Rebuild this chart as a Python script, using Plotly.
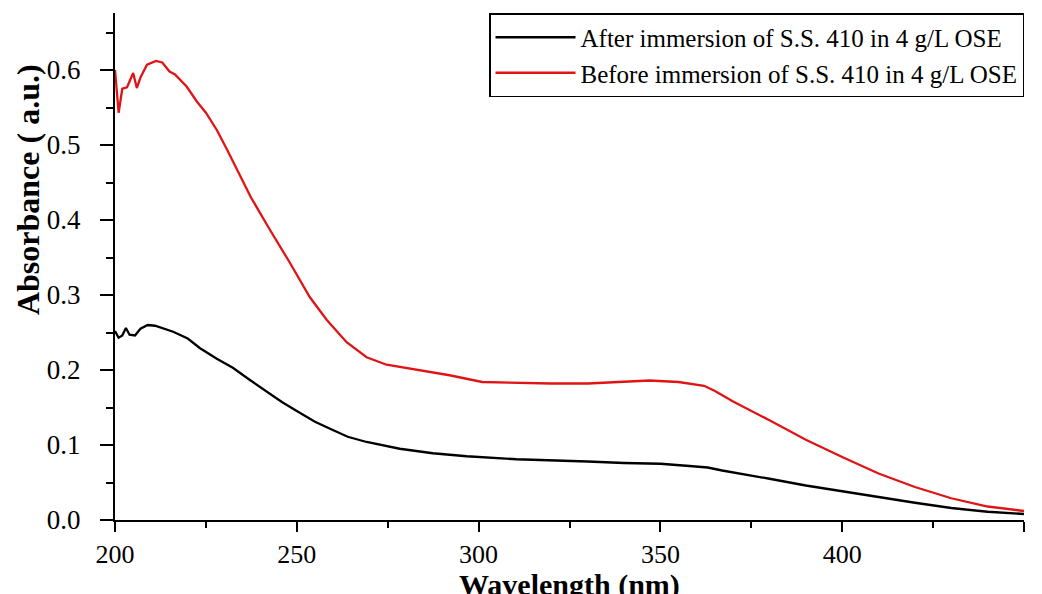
import plotly.graph_objects as go

# Before immersion (red)
wl_before = [200, 201, 202, 203.3, 205, 206, 207, 208.8, 211.3, 213, 215, 216.5, 219.7, 222.5,
             225, 228, 230.8, 234.4, 237.4, 242.6, 248.1, 253.6, 258.2, 263.7, 269.2, 274.7,
             283, 292, 301, 310, 320, 330, 340, 347, 355, 362, 365, 370, 380, 390, 400, 410,
             420, 430, 440, 450]
abs_before = [0.600, 0.543, 0.575, 0.577, 0.596, 0.576, 0.590, 0.607, 0.612, 0.610, 0.598, 0.594,
              0.578, 0.558, 0.543, 0.520, 0.494, 0.458, 0.430, 0.387, 0.343, 0.297, 0.267, 0.237,
              0.217, 0.207, 0.200, 0.193, 0.184, 0.183, 0.182, 0.182, 0.184, 0.186, 0.184, 0.179,
              0.172, 0.158, 0.133, 0.107, 0.084, 0.062, 0.044, 0.029, 0.018, 0.012]

# After immersion (black)
wl_after = [200, 201, 202, 203, 204, 205.5, 207, 209, 211, 213, 216, 220, 223.4, 228, 232.4, 237,
            241.8, 246, 250.8, 255, 259.9, 264, 269.2, 278.3, 287.4, 296.7, 310.4, 320, 330, 340,
            350, 358, 363, 367, 372, 380, 390, 400, 410, 420, 430, 440, 450]
abs_after = [0.252, 0.243, 0.246, 0.256, 0.247, 0.246, 0.255, 0.260, 0.259, 0.256, 0.251, 0.242,
             0.229, 0.215, 0.203, 0.187, 0.171, 0.157, 0.143, 0.131, 0.120, 0.111, 0.104, 0.095,
             0.089, 0.085, 0.081, 0.080, 0.078, 0.076, 0.075, 0.072, 0.070, 0.066, 0.062, 0.055,
             0.046, 0.038, 0.030, 0.023, 0.016, 0.011, 0.008]

name_after = "After immersion of S.S. 410 in 4 g/L OSE"
name_before = "Before immersion of S.S. 410 in 4 g/L OSE"

FONT = "Liberation Serif"

fig = go.Figure()
fig.add_trace(go.Scatter(x=wl_after, y=abs_after, mode="lines", name=name_after,
                         line=dict(color="black", width=2.3)))
fig.add_trace(go.Scatter(x=wl_before, y=abs_before, mode="lines", name=name_before,
                         line=dict(color="#e01414", width=2.3)))

fig.update_layout(
    width=1034, height=586,
    margin=dict(l=107, r=18, t=5, b=74),
    paper_bgcolor="white", plot_bgcolor="white",
    font=dict(family=FONT, color="black"),
    showlegend=True,
    legend=dict(x=1, xanchor="right", y=1, yanchor="top",
                bordercolor="black", borderwidth=1.5, bgcolor="white",
                font=dict(family=FONT, size=25, color="black"),
                itemwidth=80, tracegroupgap=0),
    xaxis=dict(range=[200, 450], dtick=50, tick0=200, showgrid=False, zeroline=False,
               showline=True, linecolor="black", linewidth=2,
               ticks="outside", ticklen=10, tickwidth=2, tickcolor="black",
               minor=dict(dtick=25, ticks="outside", ticklen=6, tickwidth=2, tickcolor="black"),
               tickfont=dict(family=FONT, size=26, color="black")),
    xaxis2=dict(range=[200, 450], overlaying="x", side="top", anchor="y", dtick=25, tick0=200,
                showgrid=False, zeroline=False, showline=True, linecolor="black", linewidth=2,
                ticks="inside", ticklen=9, tickwidth=2, tickcolor="black", showticklabels=False),
    yaxis=dict(range=[0, 0.676], dtick=0.1, tick0=0, tickformat=".1f", showgrid=False,
               zeroline=False, showline=True, linecolor="black", linewidth=2,
               ticks="outside", ticklen=13, tickwidth=2, tickcolor="black",
               minor=dict(dtick=0.05, ticks="outside", ticklen=7, tickwidth=2, tickcolor="black"),
               tickfont=dict(family=FONT, size=27, color="black"), ticklabelstandoff=14),
    yaxis2=dict(range=[0, 5], overlaying="y", side="right", anchor="x", dtick=1, tick0=0,
                showgrid=False, zeroline=False, showline=True, linecolor="black", linewidth=2,
                ticks="inside", ticklen=13, tickwidth=2, tickcolor="black", showticklabels=False,
                minor=dict(dtick=0.5, ticks="inside", ticklen=6, tickwidth=2, tickcolor="black")),
    annotations=[
        dict(text="<b>Wavelength (nm)</b>", xref="paper", yref="paper", x=0.5, y=-0.128,
             xanchor="center", yanchor="middle", showarrow=False,
             font=dict(family=FONT, size=30, color="black")),
        dict(text="<b>Absorbance ( a.u.)</b>", xref="paper", yref="paper", x=-0.095, y=0.652,
             xanchor="center", yanchor="middle", textangle=-90, showarrow=False,
             font=dict(family=FONT, size=32, color="black")),
    ],
)

fig.write_html("out.html")
